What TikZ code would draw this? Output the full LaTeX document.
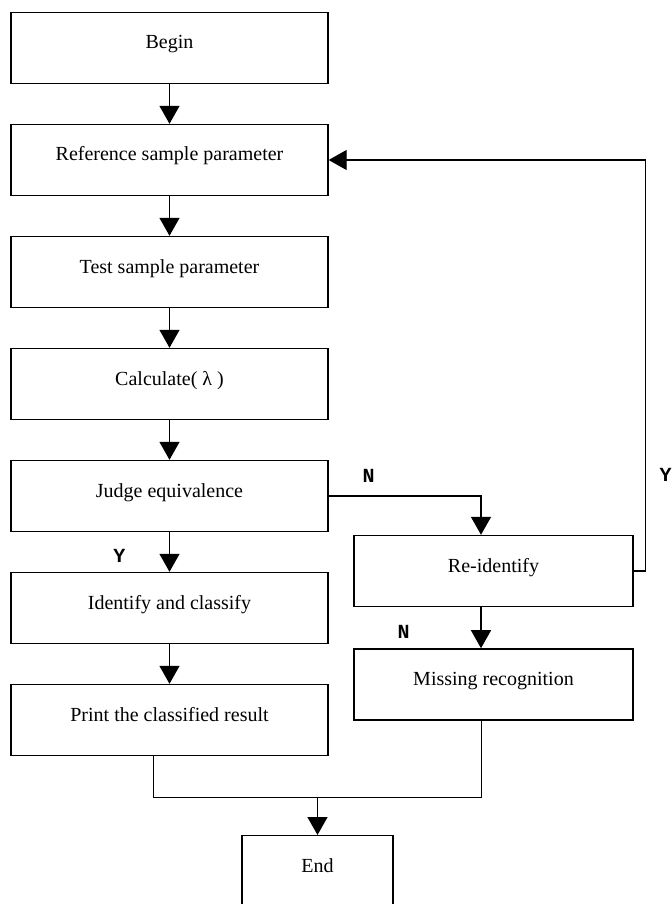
\documentclass[tikz,border=0pt]{standalone}
\usepackage{fontspec}
\setmainfont{Liberation Serif}
\newfontfamily\markfont{Liberation Mono}
\usepackage{tikz}
\usetikzlibrary{arrows.meta, positioning, calc}

\begin{document}
\begin{tikzpicture}[
				node distance=19.8pt,
				% Defining node styles
				block/.style={rectangle, draw=black, line width=0.7pt, text centered, minimum width=158.5pt, minimum height=35.5pt, text height=7pt, text depth=6pt, font=\fontsize{10}{12}\selectfont},
				side_block/.style={block, minimum width=139.5pt},
				end_block/.style={block, minimum width=75.5pt},
				connector/.style={-{Triangle[width=10pt,length=9pt]}, line width=0.7pt, draw=black},
				line/.style={line width=0.7pt, draw=black},
				mark_label/.style={font=\markfont\bfseries\fontsize{10}{12}\selectfont}
			]

			% Fixing the frame (Begin sits at the origin)
			\useasboundingbox (-84.75pt,24pt) rectangle ++(336pt,-452pt);

			% Placing main nodes vertically
			\node[block] (B) at (0,0) {Begin};
			\node[block, below=of B] (R) {Reference sample parameter};
			\node[block, below=of R] (T) {Test sample parameter};
			\node[block, below=of T] (C) {Calculate( λ )};
			\node[block, below=of C] (J) {Judge equivalence};
			\node[block, below=of J] (I) {Identify and classify};
			\node[block, below=of I] (P) {Print the classified result};

			% Placing side nodes
			\node[side_block] (RI) at ($(J)+(162pt,-37.5pt)$) {Re-identify};
			\node[side_block, below=20.5pt of RI] (M) {Missing recognition};
			\node[end_block] (E) at ($(P.south)+(74pt,-57.5pt)$) {End};

			% Helper coordinates
			\coordinate (RIn) at ($(RI.north)+(-6.25pt,0)$);
			\coordinate (RIs) at ($(RI.south)+(-6.25pt,0)$);
			\coordinate (Mn) at ($(M.north)+(-6.25pt,0)$);
			\coordinate (Ms) at ($(M.south)+(-6pt,0)$);
			\coordinate (Ps) at ($(P.south)+(-8pt,0)$);
			\coordinate (join) at ($(Ps)+(0,-20.5pt)$);

			% Drawing main connections
			\draw[connector] (B) -- (R);
			\draw[connector] (R) -- (T);
			\draw[connector] (T) -- (C);
			\draw[connector] (C) -- (J);
			\draw[connector] (J) -- (I);
			\draw[connector] (I) -- (P);

			% Drawing branches
			\draw[connector] (J.east) -| (RIn);
			\draw[connector] (RIs) -- (Mn);
			\draw[connector] (RI.east) -- ++(6pt,0) |- (R.east);

			% Merging into the end
			\draw[line] (Ps) -- (join) -| (Ms);
			\draw[connector] (join -| E.north) -- (E.north);

			% Adding branch labels
			\node[mark_label] at ($(J.east)+(20pt,10pt)$) {N};
			\node[mark_label] at ($(RI.east)+(16pt,48pt)$) {Y};
			\node[mark_label] at ($(J.south)+(-25pt,-12pt)$) {Y};
			\node[mark_label] at ($(RI.south)+(-45pt,-12.5pt)$) {N};

		\end{tikzpicture}
\end{document}
